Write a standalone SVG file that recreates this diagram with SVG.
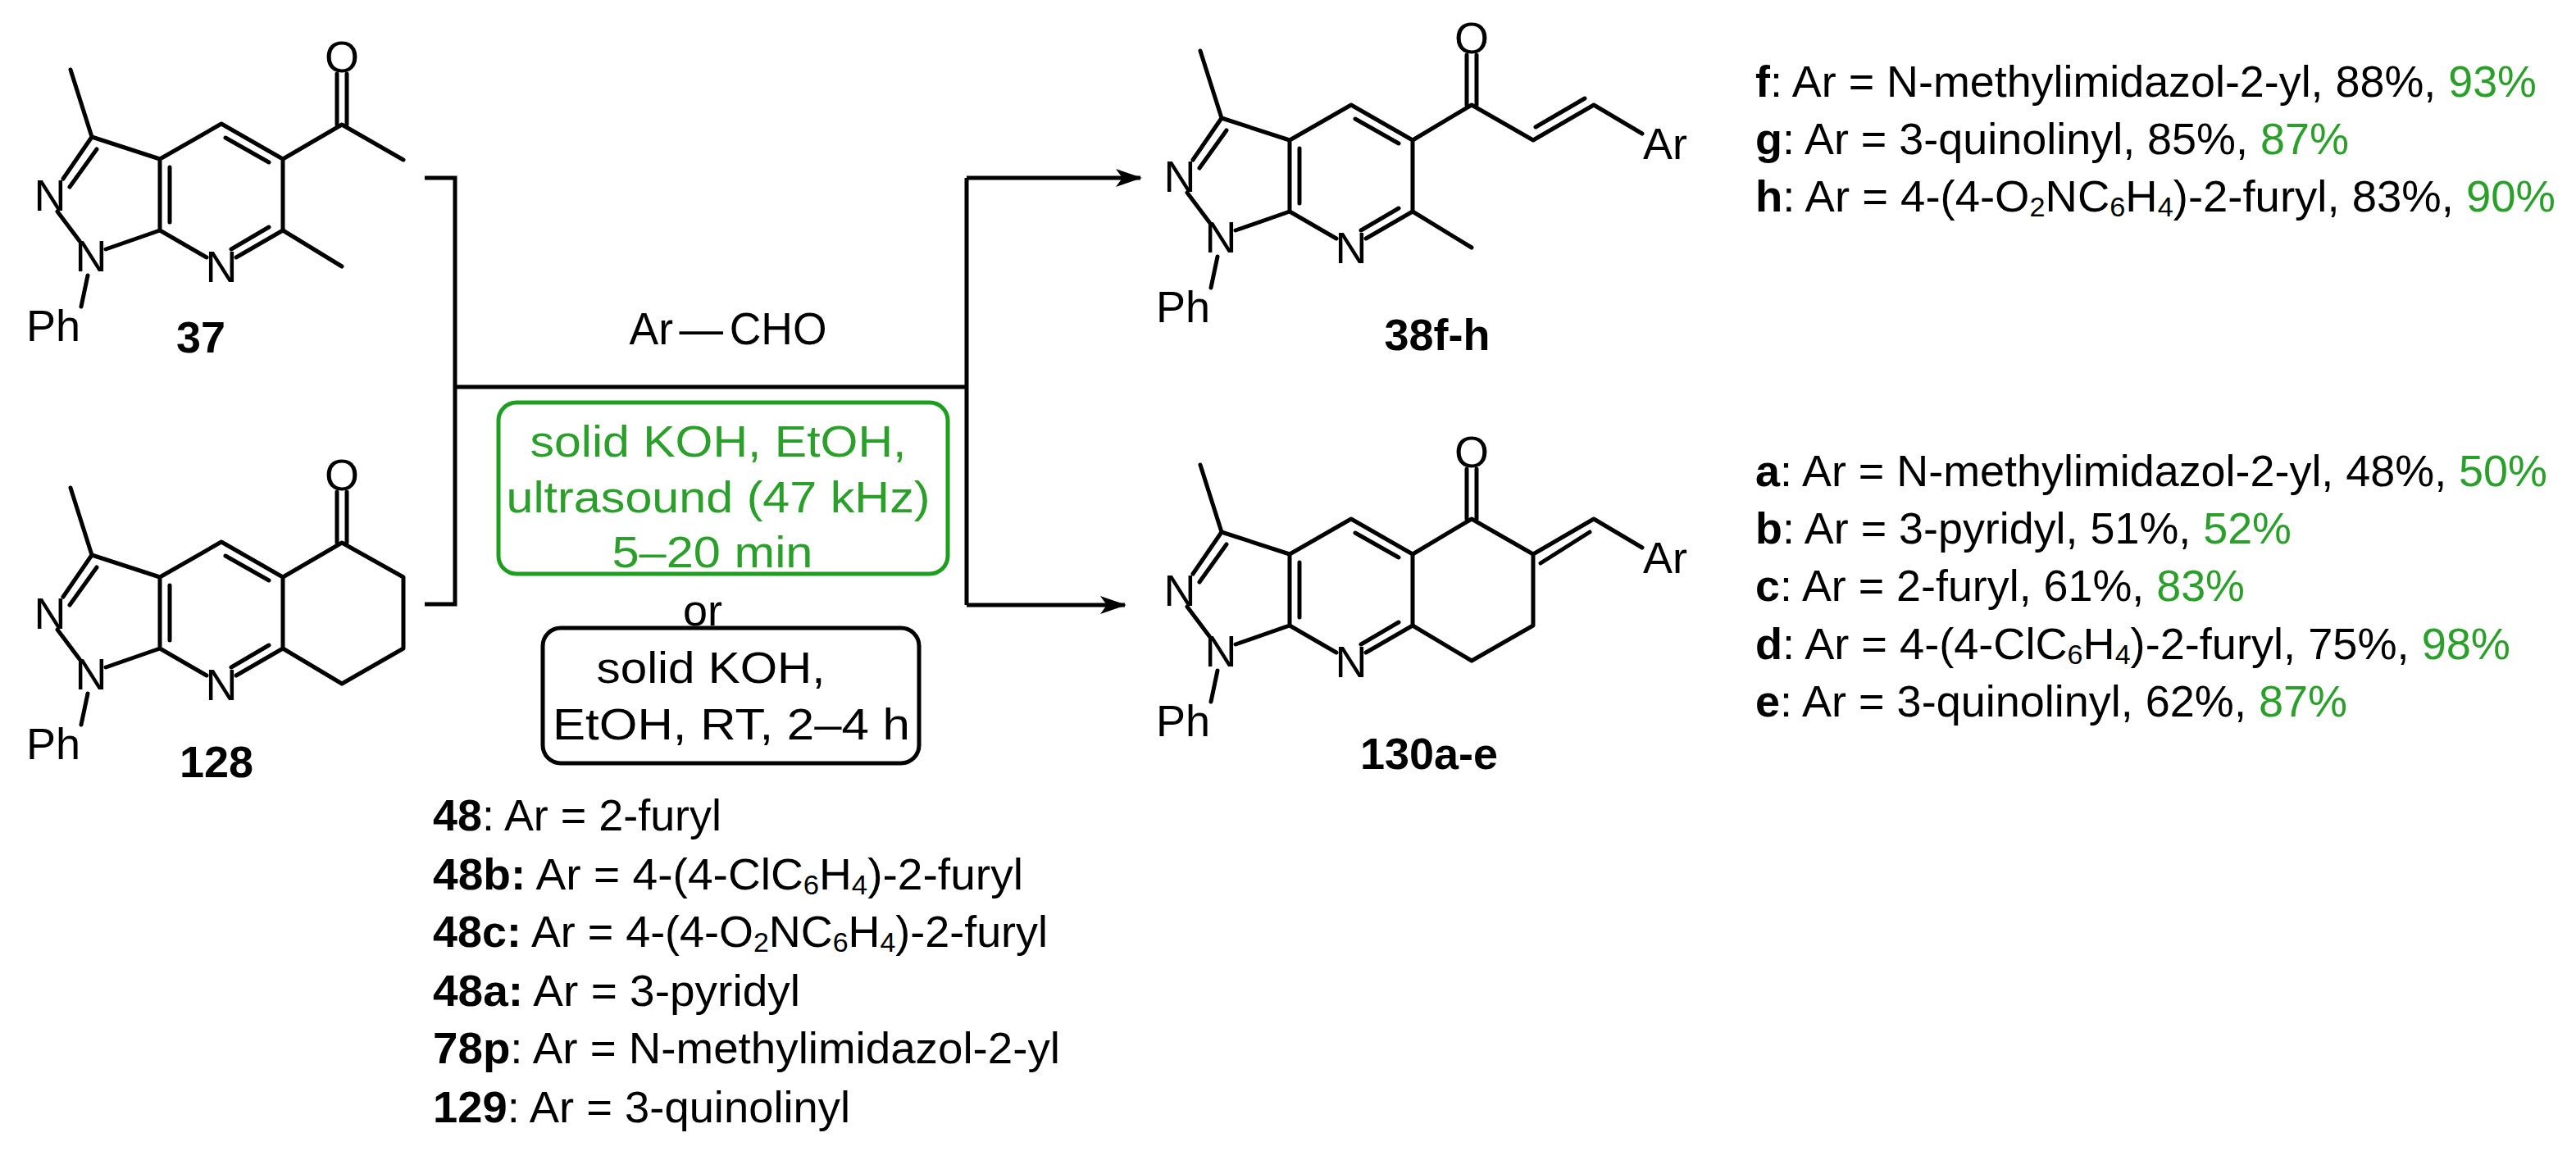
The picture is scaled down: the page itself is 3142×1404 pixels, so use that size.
<svg xmlns="http://www.w3.org/2000/svg" width="3142" height="1404" viewBox="0 0 3142 1404">
<style>
text{font-family:"Liberation Sans",Arial,sans-serif;font-size:56px;fill:#000}
.l{font-size:54px}
.b{stroke:#000;stroke-width:5;fill:none;stroke-linecap:round;stroke-linejoin:round}
.at{font-size:54px;text-anchor:middle}
.bd{font-weight:bold}
.g{fill:#2aa02a}
.c{text-anchor:middle}
.ln{stroke:#000;stroke-width:5;fill:none}
.sub{font-size:34px}
</style>
<defs>
<marker id="ah" markerWidth="32" markerHeight="22" refX="30" refY="11" orient="auto" markerUnits="userSpaceOnUse" viewBox="0 0 32 22">
<path d="M0,0 L32,11 L0,22 L8,11 Z" fill="#000"/>
</marker>
<path id="core" class="b" d="M0,0 L75,-43 L150,0 L150,87 M150,87 L93,120 M57,120 L0,87 L0,0 M12,10 L12,77 M80,-26 L133,4 M87,110 L133,83 M0,0 L-83,-27 L-109,-109 M-83,-27 L-118,24 M-77,-12 L-110,34 M-125,64 L-98,100 M-66,110 L0,87 M-88,142 L-96,180"/>
</defs>
<g id="c37">
<g transform="translate(195,194)">
<use href="#core"/>
<path class="b" d="M150,0 L222,-42 L297,1 M216,-42 L216,-104 M228,-42 L228,-104 M150,87 L222,131"/>
</g>
<text class="at" x="61" y="257">N</text>
<text class="at" x="111" y="331">N</text>
<text class="at" x="270" y="344">N</text>
<text class="at" x="65" y="416">Ph</text>
<text class="at" x="417" y="88">O</text>
<text class="at bd" x="245" y="430">37</text>
</g>
<g id="c128">
<g transform="translate(195,704)">
<use href="#core"/>
<path class="b" d="M150,0 L222,-42 L297,0 L297,87 L222,130 L150,87 M216,-42 L216,-104 M228,-42 L228,-104"/>
</g>
<text class="at" x="61" y="767">N</text>
<text class="at" x="111" y="841">N</text>
<text class="at" x="270" y="854">N</text>
<text class="at" x="65" y="926">Ph</text>
<text class="at" x="417" y="598">O</text>
<text class="at bd" x="264" y="948">128</text>
</g>
<g id="c38">
<g transform="translate(1573,171)">
<use href="#core"/>
<path class="b" d="M150,0 L222,-43 L297,0 L371,-43 L430,-8 M216,-43 L216,-104 M228,-43 L228,-104 M300,-16 L360,-51 M150,87 L222,131"/>
</g>
<text class="at" x="1439" y="234">N</text>
<text class="at" x="1489" y="308">N</text>
<text class="at" x="1648" y="321">N</text>
<text class="at" x="1443" y="393">Ph</text>
<text class="at" x="1795" y="65">O</text>
<text class="at" x="2031" y="194">Ar</text>
<text class="at bd" x="1753" y="427">38f-h</text>
</g>
<g id="c130">
<g transform="translate(1573,676)">
<use href="#core"/>
<path class="b" d="M150,0 L222,-43 L297,0 L297,87 L222,130 L150,87 M297,0 L371,-43 L430,-8 M216,-43 L216,-104 M228,-43 L228,-104 M306,11 L366,-27"/>
</g>
<text class="at" x="1439" y="739">N</text>
<text class="at" x="1489" y="813">N</text>
<text class="at" x="1648" y="826">N</text>
<text class="at" x="1443" y="898">Ph</text>
<text class="at" x="1795" y="570">O</text>
<text class="at" x="2031" y="699">Ar</text>
<text class="at bd" x="1743" y="938">130a-e</text>
</g>
<g id="connectors">
<path class="ln" d="M518,217 H555 V737 H518 M555,472 H1179 M1179,217 V738"/>
<path class="ln" d="M1179,217 H1391" marker-end="url(#ah)"/>
<path class="ln" d="M1179,738 H1372" marker-end="url(#ah)"/>
</g>
<g id="reagent">
<text x="888" y="420" class="c" textLength="241" lengthAdjust="spacingAndGlyphs">Ar<tspan dx="8">—</tspan><tspan dx="8">CHO</tspan></text>
</g>
<g id="cond1">
<rect x="608" y="491" width="548" height="209" rx="22" fill="none" stroke="#1e9e1e" stroke-width="5"/>
<text class="c g l" x="876" y="557" textLength="459" lengthAdjust="spacingAndGlyphs">solid KOH, EtOH,</text>
<text class="c g l" x="876" y="625" textLength="517" lengthAdjust="spacingAndGlyphs">ultrasound (47 kHz)</text>
<text class="c g l" x="869" y="692" textLength="245" lengthAdjust="spacingAndGlyphs">5–20 min</text>
</g>
<text class="c l" x="857" y="763">or</text>
<g id="cond2">
<rect x="662" y="766" width="459" height="165" rx="22" fill="none" stroke="#000" stroke-width="5"/>
<text class="c l" x="867" y="833" textLength="279" lengthAdjust="spacingAndGlyphs">solid KOH,</text>
<text class="c l" x="892" y="902" textLength="436" lengthAdjust="spacingAndGlyphs">EtOH, RT, 2–4 h</text>
</g>
<g id="aldehydes">
<text class="l" x="528" y="1013" textLength="352" lengthAdjust="spacingAndGlyphs"><tspan class="bd">48</tspan>: Ar = 2-furyl</text>
<text class="l" x="528" y="1085" textLength="720" lengthAdjust="spacingAndGlyphs"><tspan class="bd">48b:</tspan> Ar = 4-(4-ClC<tspan class="sub" dy="6">6</tspan><tspan dy="-6">H</tspan><tspan class="sub" dy="6">4</tspan><tspan dy="-6">)-2-furyl</tspan></text>
<text class="l" x="528" y="1155" textLength="750" lengthAdjust="spacingAndGlyphs"><tspan class="bd">48c:</tspan> Ar = 4-(4-O<tspan class="sub" dy="6">2</tspan><tspan dy="-6">NC</tspan><tspan class="sub" dy="6">6</tspan><tspan dy="-6">H</tspan><tspan class="sub" dy="6">4</tspan><tspan dy="-6">)-2-furyl</tspan></text>
<text class="l" x="528" y="1227" textLength="448" lengthAdjust="spacingAndGlyphs"><tspan class="bd">48a:</tspan> Ar = 3-pyridyl</text>
<text class="l" x="528" y="1297" textLength="765" lengthAdjust="spacingAndGlyphs"><tspan class="bd">78p</tspan>: Ar = N-methylimidazol-2-yl</text>
<text class="l" x="528" y="1369" textLength="509" lengthAdjust="spacingAndGlyphs"><tspan class="bd">129</tspan>: Ar = 3-quinolinyl</text>
</g>
<g id="list38">
<text class="l" x="2141" y="118" textLength="953" lengthAdjust="spacingAndGlyphs"><tspan class="bd">f</tspan>: Ar = N-methylimidazol-2-yl, 88%, <tspan class="g">93%</tspan></text>
<text class="l" x="2141" y="188" textLength="724" lengthAdjust="spacingAndGlyphs"><tspan class="bd">g</tspan>: Ar = 3-quinolinyl, 85%, <tspan class="g">87%</tspan></text>
<text class="l" x="2141" y="258" textLength="976" lengthAdjust="spacingAndGlyphs"><tspan class="bd">h</tspan>: Ar = 4-(4-O<tspan class="sub" dy="6">2</tspan><tspan dy="-6">NC</tspan><tspan class="sub" dy="6">6</tspan><tspan dy="-6">H</tspan><tspan class="sub" dy="6">4</tspan><tspan dy="-6">)-2-furyl, 83%, </tspan><tspan class="g">90%</tspan></text>
</g>
<g id="list130">
<text class="l" x="2141" y="593" textLength="966" lengthAdjust="spacingAndGlyphs"><tspan class="bd">a</tspan>: Ar = N-methylimidazol-2-yl, 48%, <tspan class="g">50%</tspan></text>
<text class="l" x="2141" y="663" textLength="654" lengthAdjust="spacingAndGlyphs"><tspan class="bd">b</tspan>: Ar = 3-pyridyl, 51%, <tspan class="g">52%</tspan></text>
<text class="l" x="2141" y="733" textLength="597" lengthAdjust="spacingAndGlyphs"><tspan class="bd">c</tspan>: Ar = 2-furyl, 61%, <tspan class="g">83%</tspan></text>
<text class="l" x="2141" y="804" textLength="921" lengthAdjust="spacingAndGlyphs"><tspan class="bd">d</tspan>: Ar = 4-(4-ClC<tspan class="sub" dy="6">6</tspan><tspan dy="-6">H</tspan><tspan class="sub" dy="6">4</tspan><tspan dy="-6">)-2-furyl, 75%, </tspan><tspan class="g">98%</tspan></text>
<text class="l" x="2141" y="874" textLength="722" lengthAdjust="spacingAndGlyphs"><tspan class="bd">e</tspan>: Ar = 3-quinolinyl, 62%, <tspan class="g">87%</tspan></text>
</g>
</svg>
